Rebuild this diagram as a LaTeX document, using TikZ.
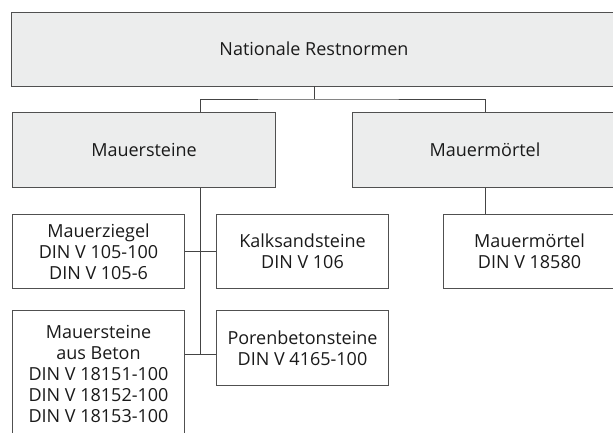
\documentclass[tikz,border=0pt]{standalone}
\usepackage{fontspec}
\setmainfont{Open Sans}
\usepackage{tikz}

\definecolor{boxgrey}{HTML}{ECEDED}
\definecolor{linegrey}{HTML}{505050}
\definecolor{textgrey}{HTML}{1A1A1A}

\begin{document}
\begin{tikzpicture}[x=1pt, y=1pt,
  box/.style = {draw=linegrey, line width=0.9pt, inner sep=0pt, align=center,
                text=textgrey, font=\fontsize{18}{20.8}\selectfont},
  greybox/.style = {box, fill=boxgrey},
  normbox/.style = {box, fill=white, minimum width=172.5, minimum height=74.5},
  link/.style = {draw=linegrey!85!black, line width=0.9pt}]
\useasboundingbox (0,0) rectangle (613,-432);
\clip (0,0) rectangle (613,-432);

\node[greybox, minimum width=605, minimum height=74] (rest) at (314,-49) {Nationale Restnormen};
\node[greybox, minimum width=263, minimum height=74.5] (mauersteine) at (144,-150) {Mauersteine};
\node[greybox, minimum width=265, minimum height=74.5] (mauermoertel) at (485,-150) {Mauermörtel};

\node[normbox] (ziegel) at (98.5,-251.5) {Mauerziegel\\DIN V 105-100\\DIN V 105-6};
\node[normbox] (kalk) at (302.5,-251.5) {Kalksandsteine\\DIN V 106};
\node[normbox] (din moertel) at (529.5,-251.5) {Mauermörtel\\DIN V 18580};
\node[normbox, minimum height=128] (beton) at (98.5,-374)
  {Mauersteine\\aus Beton\\DIN V 18151-100\\DIN V 18152-100\\DIN V 18153-100};
\node[normbox] (poren) at (302.5,-348) {Porenbetonsteine\\DIN V 4165-100};

\coordinate (split) at (314,-99);
\coordinate (spine) at (200,-354);

\draw[link] (rest.south) -- (split);
\draw[link] (mauersteine.north -| spine) |- (split) -| (mauermoertel.north);
\draw[link] (mauermoertel.south) -- (mauermoertel.south |- din moertel.north);
\draw[link] (mauersteine.south -| spine) -- (spine);
\draw[link] (ziegel.east) -- (kalk.west);
\draw[link] (beton.east |- spine) -- (poren.west |- spine);
\end{tikzpicture}
\end{document}
